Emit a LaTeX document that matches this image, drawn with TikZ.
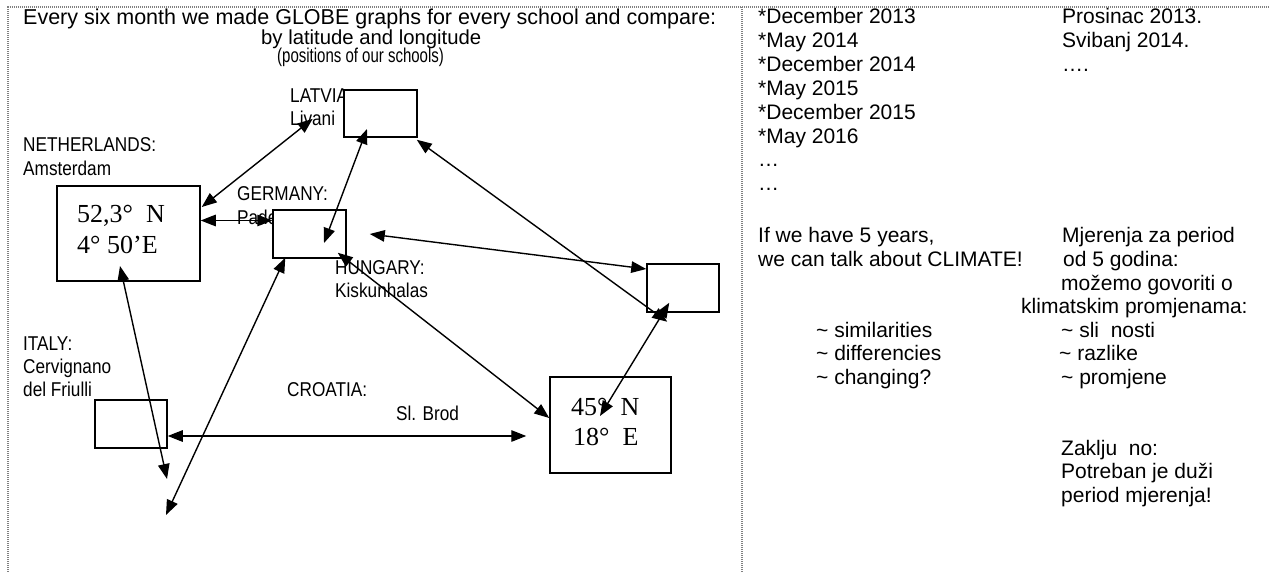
\documentclass[tikz,border=0pt]{standalone}
\usepackage{fontspec}
\setmainfont{Liberation Sans}
\newfontfamily\tnr{Liberation Serif}
\usepackage{graphicx}
\usetikzlibrary{arrows.meta,calc}
\newcommand\cnd[2][0.86]{\scalebox{#1}[1]{#2}}
\begin{document}
\begin{tikzpicture}[x=1pt,y=-1pt,
  box/.style={draw, line width=1.5pt, fill=white, inner sep=0pt, rectangle},
  lbl/.style={anchor=base west, inner sep=0pt, font=\fontsize{20}{24}\selectfont},
  txt/.style={anchor=base west, inner sep=0pt, font=\fontsize{21}{24}\selectfont},
  geo/.style={anchor=base west, inner sep=0pt, font=\tnr\fontsize{26}{30}\selectfont},
  conn/.style={line width=1.4pt, {Triangle[length=15pt,width=11.5pt]}-{Triangle[length=15pt,width=11.5pt]}},
  frame/.style={draw=gray, line width=2pt, dash pattern=on 1pt off 1pt}]
\useasboundingbox (0,0) rectangle (1269,572);
% frame
\draw[frame] (8.3,572) -- (8.3,7.3) -- (1269,7.3);
\draw[frame] (742,7.3) -- (742,572);
% left panel texts
\node[txt, font=\fontsize{21.5}{24}\selectfont] (title) at (23,25) {Every six month we made GLOBE graphs for every school and compare:};
\node[txt, font=\fontsize{20.3}{24}\selectfont] (bylat) at (261,45) {by latitude and longitude};
\node[lbl] (pos) at (277,63) {\cnd[0.75]{(positions of our schools)}};
\node[lbl] (latname) at (290,103) {\cnd{LATVIA}};
\node[lbl] (livani) at (290,126) {\cnd{Livani}};
\node[lbl] (nlname) at (23,152) {\cnd{NETHERLANDS:}};
\node[lbl] (ams) at (23,176) {\cnd{Amsterdam}};
\node[lbl] (gername) at (237,201) {\cnd{GERMANY:}};
\node[lbl] (pad) at (237,225) {\cnd{Paderborn}};
\node[lbl] (hunname) at (335,274) {\cnd{HUNGARY:}};
\node[lbl] (kis) at (335,297) {\cnd{Kiskunhalas}};
\node[lbl] (itaname) at (23,350) {\cnd{ITALY:}};
\node[lbl] (cerv) at (23,373) {\cnd{Cervignano}};
\node[lbl] (friul) at (23,396) {\cnd{del Friulli}};
\node[lbl] (croname) at (287,396) {\cnd{CROATIA:}};
\node[lbl] (brod) at (396,420) {\cnd{Sl. Brod}};
% boxes
\node[box, minimum width=143pt, minimum height=95pt] (nl) at (128.5,233.5) {};
\node[box, minimum width=73pt, minimum height=47pt] (lat) at (380.5,113.5) {};
\node[box, minimum width=73pt, minimum height=48pt] (ger) at (309.5,234) {};
\node[box, minimum width=72pt, minimum height=48pt] (hun) at (683,288) {};
\node[box, minimum width=72pt, minimum height=48pt] (ita) at (131,424) {};
\node[box, minimum width=121pt, minimum height=96pt] (cro) at (610.5,425) {};
\node[geo] (nl1) at (77,223) {52,3°\ \ N};
\node[geo] (nl2) at (77,253) {4° 50’E};
\node[geo] (cr1) at (571,415) {45°\ \ N};
\node[geo] (cr2) at (573,445) {18°\ \ E};
% right panel
\node[txt] (r0) at (758,24) {*December 2013};
\node[txt] (r1) at (758,48) {*May 2014};
\node[txt] (r2) at (758,72) {*December 2014};
\node[txt] (r3) at (758,96) {*May 2015};
\node[txt] (r4) at (758,120) {*December 2015};
\node[txt] (r5) at (758,144) {*May 2016};
\node[txt] (r6) at (758,167) {…};
\node[txt] (r7) at (758,191) {…};
\node[txt] (r9) at (758,243) {If we have 5 years,};
\node[txt] (r10) at (758,266.5) {we can talk about CLIMATE!};
\node[txt] (r13) at (816,337) {\textasciitilde\ similarities};
\node[txt] (r14) at (816,360.5) {\textasciitilde\ differencies};
\node[txt] (r15) at (816,384) {\textasciitilde\ changing?};
\node[txt] (h0) at (1062,24) {Prosinac 2013.};
\node[txt] (h1) at (1062,48) {Svibanj 2014.};
\node[txt] (h2) at (1062,72) {….};
\node[txt] (h9) at (1062,243) {Mjerenja za period};
\node[txt] (h10) at (1063,266.5) {od 5 godina:};
\node[txt] (h11) at (1061,290) {možemo govoriti o};
\node[txt] (h12) at (1021,313.5) {klimatskim promjenama:};
\node[txt] (h13) at (1061,337) {\textasciitilde\ sli\ \ nosti};
\node[txt] (h14) at (1059,360.5) {\textasciitilde\ razlike};
\node[txt] (h15) at (1061,384) {\textasciitilde\ promjene};
\node[txt] (h18) at (1061,455) {Zaklju\ \ no:};
\node[txt] (h19) at (1061,478.5) {Potreban je duži};
\node[txt] (h20) at (1061,502) {period mjerenja!};
% connector ends
\coordinate (a1s) at ($(nl.east)+(1,-26.5)$);
\coordinate (a2s) at ($(nl.east)+(0,-13)$);
\coordinate (a3s) at ($(lat.center)+(-13.5,15.5)$);
\coordinate (a3e) at ($(ger.center)+(14.5,9)$);
\coordinate (a4s) at ($(lat.south east)+(-1,2)$);
\coordinate (a4e) at ($(hun.south west)+(21,9)$);
\coordinate (a5s) at ($(ger.east)+(23,0)$);
\coordinate (a5e) at ($(hun.west)+(0,-19)$);
\coordinate (a6s) at ($(ger.south east)+(-9,-6)$);
\coordinate (a6e) at ($(cro.west)+(0,-7)$);
\coordinate (a7s) at ($(cro.center)+(-10.5,-9)$);
\coordinate (a7e) at ($(hun.south west)+(23,-10)$);
\coordinate (a8s) at ($(ita.east)+(0,12)$);
\coordinate (a8e) at ($(cro.west)+(-23,11)$);
\coordinate (a9s) at ($(nl.center)+(-8.5,32.5)$);
\coordinate (free1) at (167,479);
\coordinate (a10s) at ($(ger.south west)+(13,-1)$);
\coordinate (free2) at (166,515);
% connectors
\draw[conn] (a1s) -- (livani.center);
\draw[conn] (a2s) -- (a2s -| ger.west);
\draw[conn] (a3s) -- (a3e);
\draw[conn] (a4s) -- (a4e);
\draw[conn] (a5s) -- (a5e);
\draw[conn] (a6s) -- (a6e);
\draw[conn] (a7s) -- (a7e);
\draw[conn] (a8s) -- (a8e);
\draw[conn] (a9s) -- (free1);
\draw[conn] (a10s) -- (free2);
\end{tikzpicture}
\end{document}
